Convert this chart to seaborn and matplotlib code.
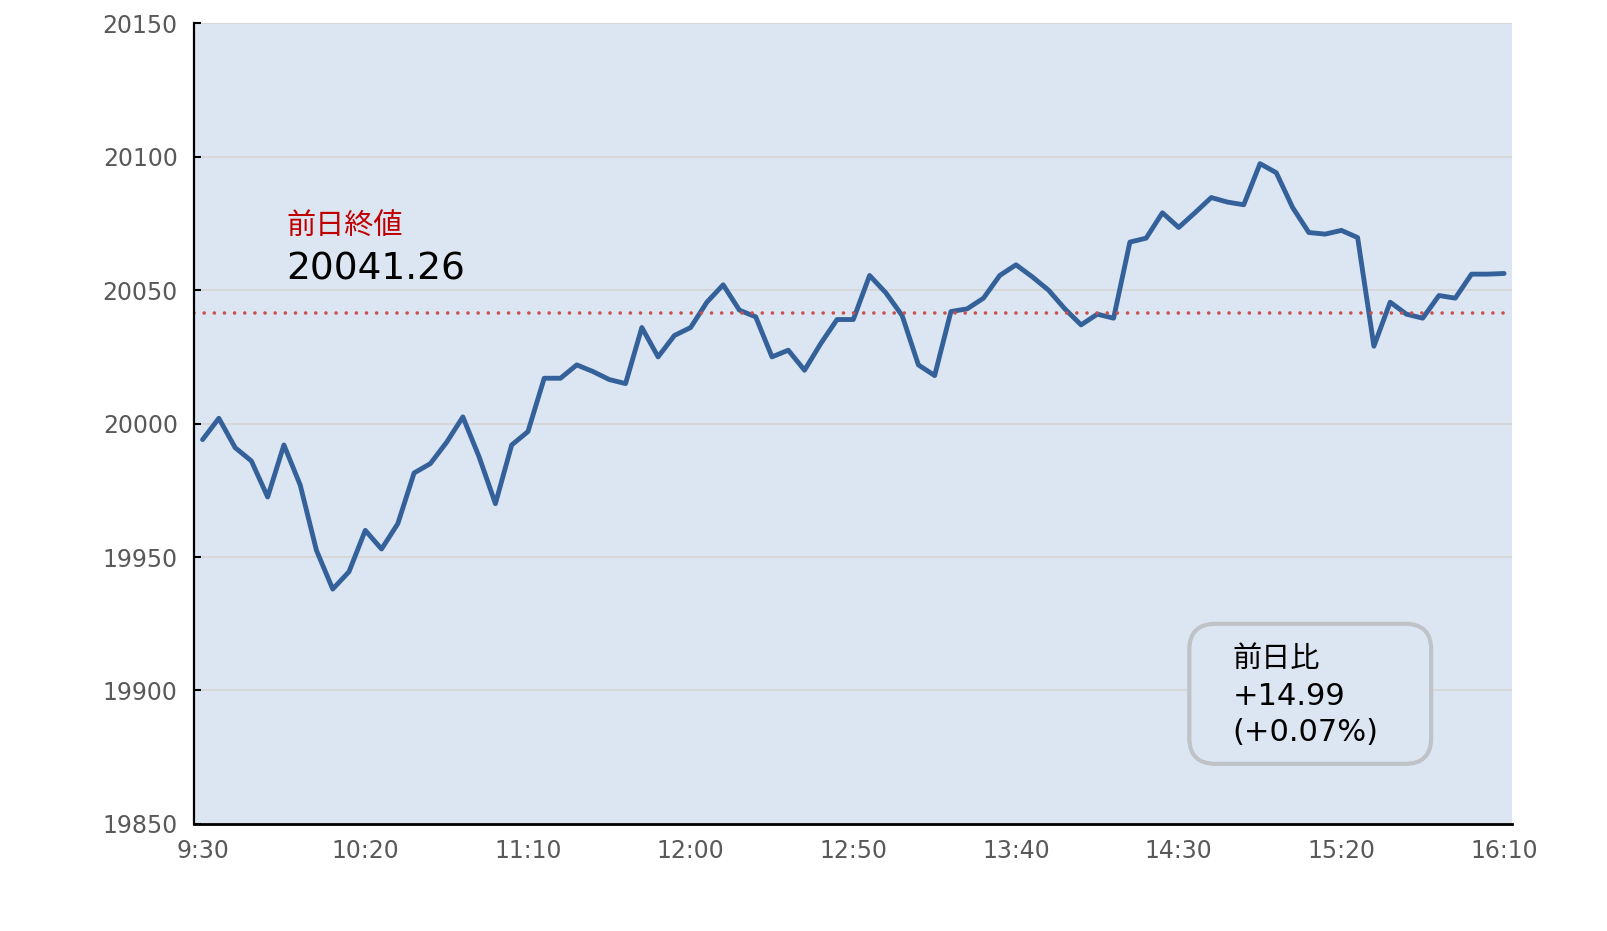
import pandas as pd
import matplotlib
matplotlib.use("Agg")
import matplotlib.pyplot as plt
import seaborn as sns
from matplotlib.patches import FancyBboxPatch

sns.set_theme(style="white")
plt.rcParams["font.family"] = ["DejaVu Sans", "Noto Sans CJK JP"]

# 5-minute prices, 9:30 - 16:10
prices = [19994, 20002, 19991, 19986, 19972.5, 19992, 19977, 19952.5, 19938, 19944.5,
          19960, 19953, 19962.5, 19981.5, 19985, 19993, 20002.5, 19987.5, 19970, 19992,
          19997, 20017, 20017, 20022, 20019.5, 20016.5, 20015, 20036, 20025, 20033,
          20036, 20045.5, 20052, 20042.5, 20040, 20025, 20027.5, 20020, 20030, 20039,
          20039, 20055.5, 20049, 20040.5, 20022, 20018, 20042, 20043, 20047, 20055.5,
          20059.5, 20055, 20050, 20043, 20037, 20041, 20039.5, 20068, 20069.5, 20079,
          20073.5, 20079, 20084.7, 20083, 20082, 20097.4, 20094, 20081, 20071.6, 20071,
          20072.4, 20069.7, 20029, 20045.5, 20041, 20039.5, 20048, 20047, 20056, 20056,
          20056.25]
prev_close = 20041.26
tick_labels = ["9:30", "10:20", "11:10", "12:00", "12:50", "13:40", "14:30", "15:20", "16:10"]
change_txt = "+14.99"
change_pct = "(+0.07%)"

df = pd.DataFrame({"step": range(len(prices)), "price": prices})

fig = plt.figure(figsize=(16.07, 9.31), dpi=100)
ax = fig.add_axes([0.121, 0.115, 0.82, 0.86])
ax.set_facecolor("#dce6f2")

ax.grid(axis="y", color="#d6d6d6", lw=1.3)
ax.set_axisbelow(True)
sns.lineplot(data=df, x="step", y="price", color="#35619a", lw=3.5, ax=ax)
ax.axhline(prev_close, color="#c9504d", lw=2.6, ls=(0, (0.01, 2.8)),
           dash_capstyle="round")

ax.set_xlim(-0.5, 80.5)
ax.set_ylim(19850, 20150)
ax.set_yticks(range(19850, 20151, 50))
ax.set_xticks(range(0, 81, 10))
ax.set_xticklabels(tick_labels)
ax.set_xticks([4.5, 14.5, 24.5, 34.5, 44.5, 54.5, 64.5, 74.5, 79.5], minor=True)
ax.set_xlabel("")
ax.set_ylabel("")
ax.tick_params(axis="x", which="major", length=0, pad=11, labelsize=17, labelcolor="#595959")
ax.tick_params(axis="x", which="minor", direction="in", length=5, width=1.5, color="black")
ax.tick_params(axis="y", direction="in", length=5, width=1.5, color="black",
               pad=12, labelsize=17, labelcolor="#595959", left=True)

for s in ["top", "right"]:
    ax.spines[s].set_visible(False)
ax.spines["left"].set_color("black")
ax.spines["left"].set_linewidth(1.6)
ax.spines["bottom"].set_color("black")
ax.spines["bottom"].set_linewidth(2)

ax.text(0.070, 0.746, "前日終値", transform=ax.transAxes, color="#c00000",
        fontsize=21, va="center", ha="left")
ax.text(0.070, 0.693, f"{prev_close:.2f}", transform=ax.transAxes, color="black",
        fontsize=27, va="center", ha="left")

box = FancyBboxPatch((0.755, 0.075), 0.1835, 0.175, transform=ax.transAxes,
                     boxstyle="round,pad=0,rounding_size=0.02", mutation_aspect=1.6,
                     facecolor="#dce6f2", edgecolor="#bfc3c8", lw=3, zorder=5)
ax.add_patch(box)
ax.text(0.788, 0.206, "前日比", transform=ax.transAxes, fontsize=21, va="center",
        color="black", zorder=6)
ax.text(0.788, 0.159, change_txt, transform=ax.transAxes, fontsize=22, va="center",
        color="black", zorder=6)
ax.text(0.788, 0.114, change_pct, transform=ax.transAxes, fontsize=22, va="center",
        color="black", zorder=6)

fig.savefig("out.png", dpi=100)
